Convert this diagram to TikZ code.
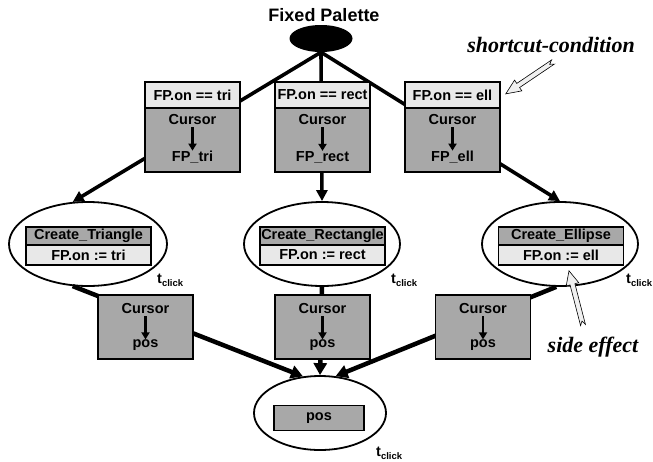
\documentclass[tikz,border=0pt]{standalone}
\usepackage{fontspec}
\setmainfont{Liberation Sans}
\newfontfamily\serifbi{Liberation Serif}
\usetikzlibrary{shapes.geometric,arrows.meta}
\definecolor{dgray}{gray}{0.66}
\definecolor{lgray}{gray}{0.91}
\definecolor{hgray}{gray}{0.94}
\begin{document}
\begin{tikzpicture}[x=1pt,y=-1pt,
  sans/.style={font=\bfseries\fontsize{14.5}{16}\selectfont},
  lightbox/.style={draw, line width=1.2pt, fill=lgray, inner sep=0pt, sans},
  darkbox/.style={draw, line width=1.2pt, fill=dgray, inner sep=0pt, sans},
  txt/.style={inner sep=0pt, sans},
  state/.style={ellipse, draw, line width=1.8pt, inner sep=0pt},
  conn/.style={line width=3.6pt, -{Triangle[length=11pt,width=11pt]}},
  connb/.style={line width=4.5pt, -{Triangle[length=12pt,width=13pt]}},
  inarrow/.style={line width=2.3pt, shorten <=2pt, -{Triangle[length=7pt,width=8pt]}},
  tclick/.style={inner sep=0pt, anchor=base west, sans},
  note/.style={font=\serifbi\bfseries\itshape\fontsize{22}{24}\selectfont, inner sep=0pt},
  hollow/.style={draw, line width=0.6pt, fill=hgray, line join=miter}
]
\useasboundingbox (0,0) rectangle (653,461);

% title and palette
\node[font=\bfseries\fontsize{18}{20}\selectfont, inner sep=0pt] (title) at (324,15) {Fixed Palette};
\node[ellipse, fill=black, minimum width=63pt, minimum height=27pt, inner sep=0pt] (fp) at (321,38.5) {};

% state ellipses
\node[state, minimum width=158pt, minimum height=84pt] (ct) at (88,244) {};
\node[state, minimum width=156pt, minimum height=84pt] (cr) at (322,244) {};
\node[state, minimum width=156pt, minimum height=84pt] (ce) at (560,244) {};
\node[state, minimum width=132pt, minimum height=74pt] (pe) at (320,413) {};

% connectors (boxes are drawn on top of them)
\draw[conn] (fp.south) -- (ct.110);
\draw[conn] (fp.south) -- (cr.north);
\draw[conn] (fp.south) -- (ce.north);
\draw[connb] (ct.250) -- (pe.115);
\draw[connb] (cr.south) -- (pe.north);
\draw[connb] (ce.265) -- (pe.67);

% top transition boxes
\node[lightbox, minimum width=95pt, minimum height=26pt] (c1) at (192.5,95) {FP.on == tri};
\node[darkbox, minimum width=95pt, minimum height=64pt] (a1) at (192.5,140) {};
\node[txt] (a1s) at (192.5,120) {Cursor};
\node[txt] (a1t) at (192.5,157) {FP\_tri};
\draw[inarrow] (a1s.south) -- (a1t.north);

\node[lightbox, minimum width=95pt, minimum height=26pt] (c2) at (322.5,95) {FP.on == rect};
\node[darkbox, minimum width=95pt, minimum height=64pt] (a2) at (322.5,140) {};
\node[txt] (a2s) at (322.5,120) {Cursor};
\node[txt] (a2t) at (322.5,157) {FP\_rect};
\draw[inarrow] (a2s.south) -- (a2t.north);

\node[lightbox, minimum width=95pt, minimum height=26pt] (c3) at (452.5,95) {FP.on == ell};
\node[darkbox, minimum width=95pt, minimum height=64pt] (a3) at (452.5,140) {};
\node[txt] (a3s) at (452.5,120) {Cursor};
\node[txt] (a3t) at (452.5,157) {FP\_ell};
\draw[inarrow] (a3s.south) -- (a3t.north);

% boxes inside state ellipses
\node[darkbox, minimum width=125pt, minimum height=18pt] (ct1) at (88.5,236) {Create\_Triangle};
\node[lightbox, minimum width=125pt, minimum height=20pt] (ct2) at (88.5,255) {FP.on := tri};
\node[darkbox, minimum width=125pt, minimum height=18pt] (cr1) at (322.5,236) {Create\_Rectangle};
\node[lightbox, minimum width=125pt, minimum height=20pt] (cr2) at (322.5,255) {FP.on := rect};
\node[darkbox, minimum width=125pt, minimum height=18pt] (ce1) at (561,236) {Create\_Ellipse};
\node[lightbox, minimum width=125pt, minimum height=20pt] (ce2) at (561,255) {FP.on := ell};
\node[darkbox, minimum width=90pt, minimum height=25pt] (pb) at (319,418) {pos};

% t_click labels
\node[tclick] (t1) at (157,283) {t\raisebox{-3pt}{\fontsize{9.5}{10}\selectfont click}};
\node[tclick] (t2) at (391,283) {t\raisebox{-3pt}{\fontsize{9.5}{10}\selectfont click}};
\node[tclick] (t3) at (626,283) {t\raisebox{-3pt}{\fontsize{9.5}{10}\selectfont click}};
\node[tclick] (t4) at (376,456.5) {t\raisebox{-3pt}{\fontsize{9.5}{10}\selectfont click}};

% bottom transition boxes
\node[darkbox, minimum width=95pt, minimum height=64pt] (b1) at (145.5,327) {};
\node[txt] (b1s) at (145.5,309) {Cursor};
\node[txt] (b1t) at (145.5,345) {pos};
\draw[inarrow] (b1s.south) -- (b1t.north);

\node[darkbox, minimum width=95pt, minimum height=64pt] (b2) at (322.5,327) {};
\node[txt] (b2s) at (322.5,309) {Cursor};
\node[txt] (b2t) at (322.5,345) {pos};
\draw[inarrow] (b2s.south) -- (b2t.north);

\node[darkbox, minimum width=95pt, minimum height=64pt] (b3) at (483,327) {};
\node[txt] (b3s) at (483,309) {Cursor};
\node[txt] (b3t) at (483,345) {pos};
\draw[inarrow] (b3s.south) -- (b3t.north);

% annotations
\node[note] (sc) at (551,45) {shortcut-condition};
\node[note] (se) at (593,347) {side effect};
\coordinate (sctail) at (553,62);
\coordinate (setail) at (583,325);
\begin{scope}[shift={(sctail)}, rotate=214]
  \draw[hollow] (0,2.5) -- (42,2.5) -- (42,6.5) -- (57,0) -- (42,-6.5) -- (42,-2.5)
    -- (0,-2.5) -- (4,0) -- cycle;
\end{scope}
\begin{scope}[shift={(setail)}, rotate=104.5]
  \draw[hollow] (0,2.5) -- (42,2.5) -- (42,6.5) -- (56,0) -- (42,-6.5) -- (42,-2.5)
    -- (0,-2.5) -- (4,0) -- cycle;
\end{scope}
\end{tikzpicture}
\end{document}
